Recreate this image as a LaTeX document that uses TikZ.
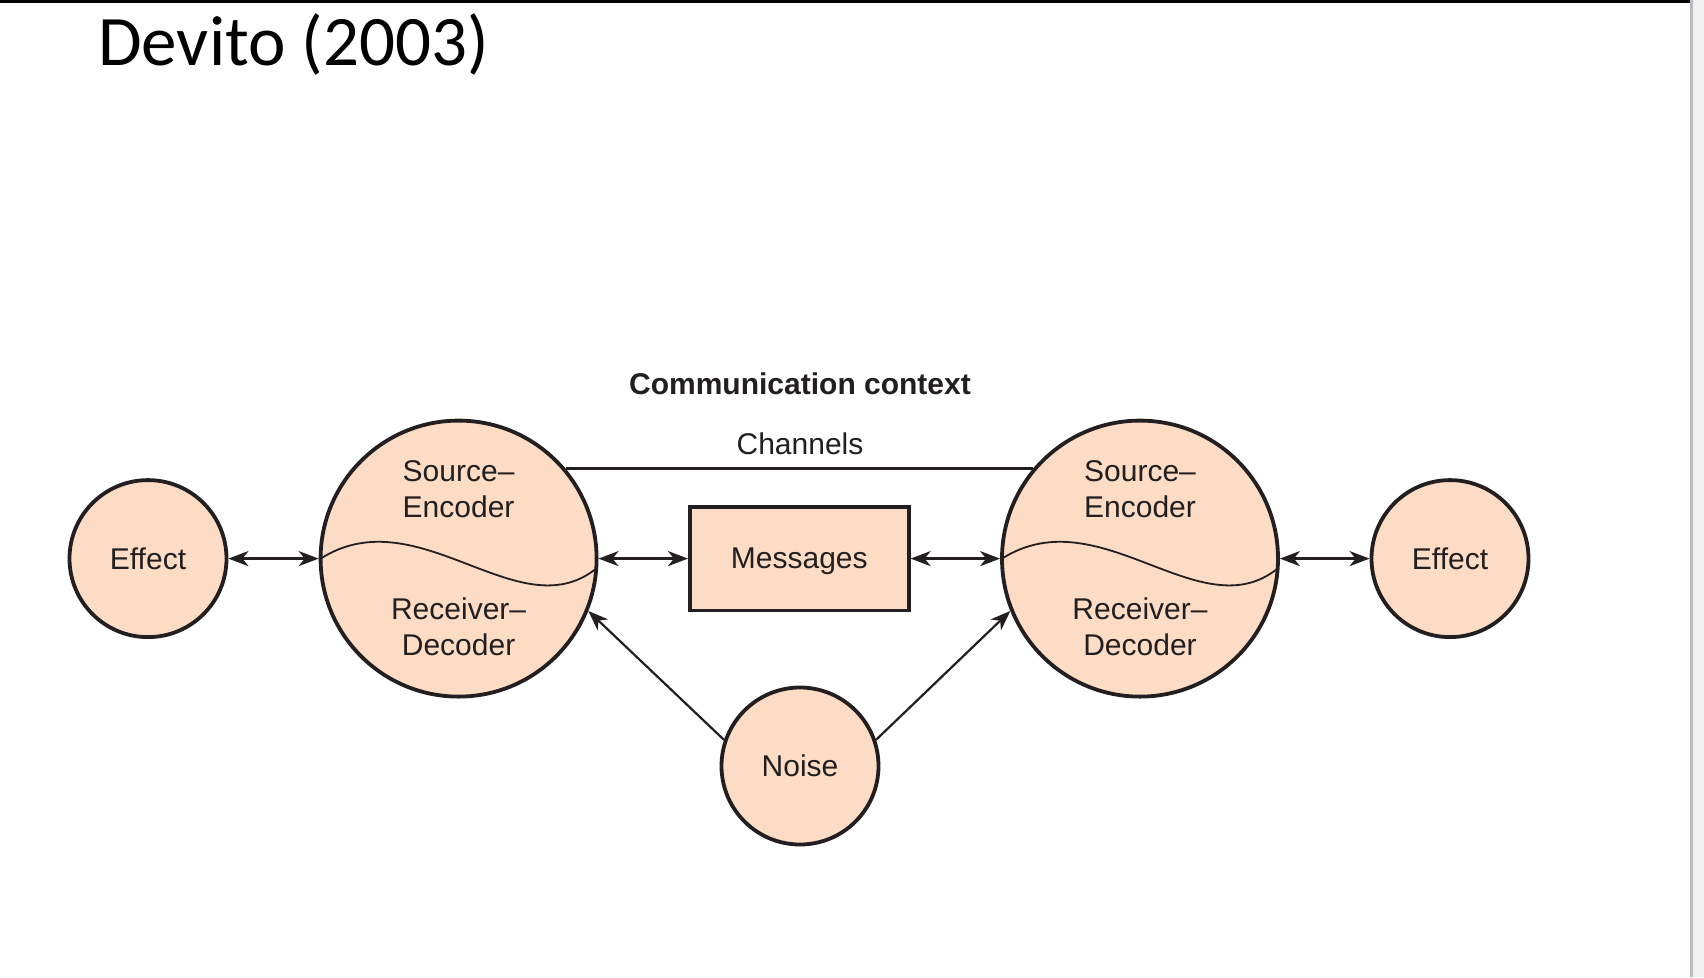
\documentclass[tikz,border=0pt]{standalone}
\usepackage{fontspec}
\setmainfont{Liberation Sans}
\newfontfamily\titlefont{Carlito}
\usetikzlibrary{arrows.meta,calc}
\definecolor{peach}{HTML}{FCDCC5}
\definecolor{ink}{HTML}{231F20}
\definecolor{stripline}{HTML}{B8BCC0}
\definecolor{strip}{HTML}{F0F0F0}
\begin{document}
\begin{tikzpicture}[x=1pt,y=-1pt,
  every node/.style={text=ink},
  circ/.style={circle,draw=ink,fill=peach,line width=3.8pt,inner sep=0pt},
  lbl/.style={font=\fontsize{30}{36}\selectfont},
  dbl/.style={draw=ink,line width=2.4pt,{Stealth[length=20pt,width=15pt,inset=6pt]}-{Stealth[length=20pt,width=15pt,inset=6pt]}},
  sgl/.style={draw=ink,line width=2.2pt,-{Stealth[length=20pt,width=15pt,inset=6pt]}},
  wave/.style={draw=ink,line width=1.8pt},
]
\useasboundingbox (0,0) rectangle (1704,977);
\fill[white] (0,0) rectangle (1704,977);
\fill[black] (0,0) rectangle (1690,2.7);
\fill[stripline] (1690.3,0) rectangle (1692.8,977);
\fill[strip] (1692.8,0) rectangle (1704,977);

\node[anchor=base west,inner sep=0pt,text=black,font=\titlefont\fontsize{71}{80}\selectfont] (title) at (98,65) {Devito (2003)};

\node[font=\bfseries\fontsize{30}{36}\selectfont] (cc) at (800,383.6) {Communication context};
\node[lbl] (ch) at (800,443.4) {Channels};

\node[circ,lbl,minimum size=157pt] (effL) at (148,558.6) {Effect};
\node[circ,minimum size=276pt] (lc) at (458.6,558.6) {};
\node[draw=ink,fill=peach,line width=3.6pt,minimum width=219pt,minimum height=103.5pt,inner sep=0pt,text depth=0pt,lbl] (msg) at (799.3,558.6) {Messages};
\node[circ,minimum size=276pt] (rc) at (1140,558.6) {};
\node[circ,lbl,minimum size=157pt] (effR) at (1450,558.6) {Effect};
\node[circ,lbl,minimum size=157pt] (noise) at (800,766) {Noise};

\draw[wave] ($(lc)+(-138,0)$) .. controls ($(lc)+(-40,-62)$) and ($(lc)+(60,72)$) .. ($(lc)+(137.5,10)$);
\draw[wave] ($(rc)+(-138,0)$) .. controls ($(rc)+(-40,-62)$) and ($(rc)+(60,72)$) .. ($(rc)+(137.5,10)$);

\node[lbl,align=center] (lcs) at ($(lc)+(0,-69)$) {Source–\\Encoder};
\node[lbl,align=center] (lcr) at ($(lc)+(0,68)$) {Receiver–\\Decoder};
\node[lbl,align=center] (rcs) at ($(rc)+(0,-69)$) {Source–\\Encoder};
\node[lbl,align=center] (rcr) at ($(rc)+(0,68)$) {Receiver–\\Decoder};

\draw[draw=ink,line width=2.5pt] (lc.40) -- (rc.140);

\draw[dbl] (effL) -- (lc);
\draw[dbl] (lc) -- (msg);
\draw[dbl] (msg) -- (rc);
\draw[dbl] (rc) -- (effR);

\draw[sgl] (noise.161) -- (lc.-22);
\draw[sgl] (noise.19) -- (rc.-158);
\end{tikzpicture}
\end{document}
